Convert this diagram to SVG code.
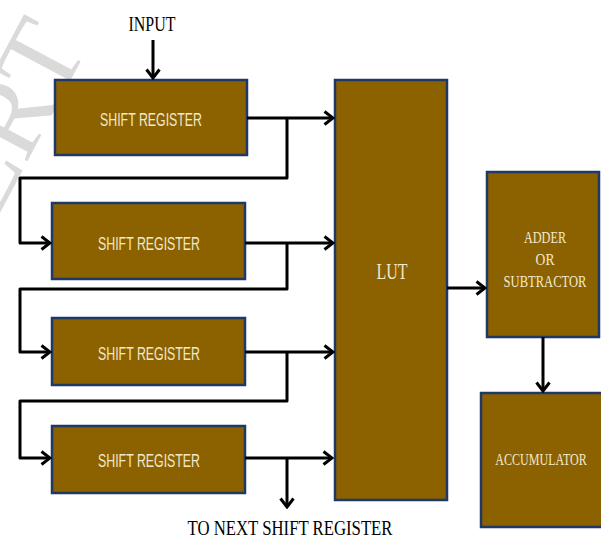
<svg xmlns="http://www.w3.org/2000/svg" width="601" height="538" viewBox="0 0 601 538">
<style>
.box{fill:#8C6200;stroke:#1F3864;stroke-width:2.5}
.ln{fill:none;stroke:#000;stroke-width:3;stroke-linejoin:round}
.sr{font-family:"Liberation Sans",Arial,sans-serif;font-size:19px;fill:#F2E8CC;text-anchor:middle}
.sf{font-family:"Liberation Serif","Times New Roman",serif;fill:#F2E8CC;text-anchor:middle}
.lbl{font-family:"Liberation Serif","Times New Roman",serif;fill:#000;text-anchor:middle}
</style>
<defs>
<marker id="ah" viewBox="0 0 12 16" refX="10" refY="8" markerWidth="12" markerHeight="16" markerUnits="userSpaceOnUse" orient="auto">
<path d="M1.5,1.5 L10,8 L1.5,14.5" fill="none" stroke="#000" stroke-width="3" stroke-linejoin="miter"/>
</marker>
</defs>
<g id="watermark" fill="#d4d4d4" opacity="0.85" font-family="Liberation Serif,serif" font-size="110">
<text transform="translate(-6,224) rotate(-62)">ERT</text>
</g>
<text id="input-label" class="lbl" x="152" y="31" font-size="21" textLength="47" lengthAdjust="spacingAndGlyphs">INPUT</text>
<g id="sr1"><rect class="box" x="55" y="80" width="192" height="75"/><text class="sr" x="151" y="126" textLength="102" lengthAdjust="spacingAndGlyphs">SHIFT REGISTER</text></g>
<g id="sr2"><rect class="box" x="52" y="203" width="193" height="76"/><text class="sr" x="149" y="250" textLength="102" lengthAdjust="spacingAndGlyphs">SHIFT REGISTER</text></g>
<g id="sr3"><rect class="box" x="52" y="318" width="193" height="67"/><text class="sr" x="149" y="360" textLength="102" lengthAdjust="spacingAndGlyphs">SHIFT REGISTER</text></g>
<g id="sr4"><rect class="box" x="52" y="426" width="193" height="67"/><text class="sr" x="149" y="467" textLength="102" lengthAdjust="spacingAndGlyphs">SHIFT REGISTER</text></g>
<g id="lut"><rect class="box" x="335" y="80" width="112" height="420"/><text class="sf" x="392" y="279" font-size="23" textLength="31" lengthAdjust="spacingAndGlyphs">LUT</text></g>
<g id="adder"><rect class="box" x="487" y="172" width="112" height="165"/>
<text class="sf" transform="translate(545,243) scale(0.72,1)" font-size="17">ADDER</text>
<text class="sf" transform="translate(545,265) scale(0.8,1)" font-size="17">OR</text>
<text class="sf" transform="translate(545,287) scale(0.74,1)" font-size="17">SUBTRACTOR</text></g>
<g id="accumulator"><rect class="box" x="481" y="393" width="125" height="134"/><text class="sf" transform="translate(541,465) scale(0.71,1)" font-size="17">ACCUMULATOR</text></g>
<text id="next-label" class="lbl" x="290" y="535" font-size="20" textLength="205" lengthAdjust="spacingAndGlyphs">TO NEXT SHIFT REGISTER</text>
<g id="connectors">
<path class="ln" d="M153,40 V78" marker-end="url(#ah)"/>
<path class="ln" d="M247,118 H333" marker-end="url(#ah)"/>
<path class="ln" d="M287,118 V178 H20 V243 H50" marker-end="url(#ah)"/>
<path class="ln" d="M245,243 H333" marker-end="url(#ah)"/>
<path class="ln" d="M287,243 V289 H20 V352 H50" marker-end="url(#ah)"/>
<path class="ln" d="M245,352 H333" marker-end="url(#ah)"/>
<path class="ln" d="M287,352 V401 H20 V458 H50" marker-end="url(#ah)"/>
<path class="ln" d="M245,458 H332" marker-end="url(#ah)"/>
<path class="ln" d="M287,458 V507" marker-end="url(#ah)"/>
<path class="ln" d="M447,288 H485" marker-end="url(#ah)"/>
<path class="ln" d="M543,337 V391" marker-end="url(#ah)"/>
</g>
</svg>
